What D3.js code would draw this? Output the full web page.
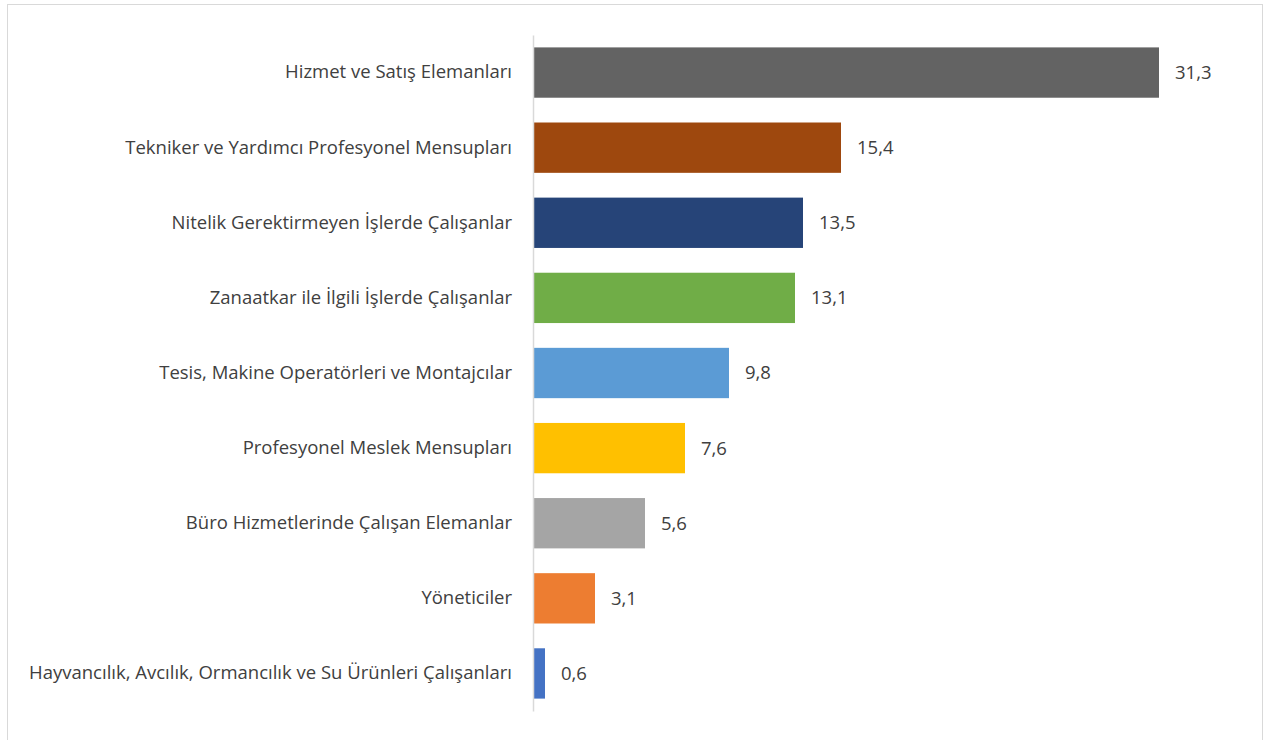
<!DOCTYPE html>
<html>
<head>
<meta charset="utf-8">
<script src="https://cdn.jsdelivr.net/npm/d3@7"></script>
<style>
body{margin:0;background:#fff;}
text{font-family:"Open Sans",sans-serif;fill:#404040;}
</style>
</head>
<body>
<svg width="1270" height="740"></svg>
<script>
const svg=d3.select('svg');
const width=+svg.attr('width');
const height=+svg.attr('height');

// data
const categories=['Hizmet ve Satış Elemanları',
 'Tekniker ve Yardımcı Profesyonel Mensupları',
 'Nitelik Gerektirmeyen İşlerde Çalışanlar',
 'Zanaatkar ile İlgili İşlerde Çalışanlar',
 'Tesis, Makine Operatörleri ve Montajcılar',
 'Profesyonel Meslek Mensupları',
 'Büro Hizmetlerinde Çalışan Elemanlar',
 'Yöneticiler',
 'Hayvancılık, Avcılık, Ormancılık ve Su Ürünleri Çalışanları'];
const values=[31.3,15.4,13.5,13.1,9.8,7.6,5.6,3.1,0.6];
const barColors=['#636363','#9E480E','#264478','#70AD47','#5B9BD5','#FFC000','#A5A5A5','#ED7D31','#4472C4'];

const margin={top:35,left:533,right:80,bottom:29};
const fontSize='18.5px';

// chart frame
svg.append('rect')
 .attr('x',7.5).attr('y',4.5)
 .attr('width',1255).attr('height',745)
 .attr('fill','none').attr('stroke','#d9d9d9');

const xScale=d3.scaleLinear()
 .domain([0,35])
 .range([margin.left,margin.left+700]);
const yScale=d3.scaleBand()
 .domain(categories)
 .range([margin.top,height-margin.bottom])
 .paddingInner(0.33).paddingOuter(0.165);

// bars
svg.selectAll('rect.bar')
 .data(values)
 .enter().append('rect')
 .attr('class','bar')
 .attr('x',xScale(0))
 .attr('y',(d,i)=>yScale(categories[i]))
 .attr('width',d=>xScale(d)-xScale(0))
 .attr('height',yScale.bandwidth())
 .attr('fill',(d,i)=>barColors[i]);

// y axis with category labels
const yAxis=d3.axisLeft(yScale).tickSize(0).tickPadding(21);
const gy=svg.append('g')
 .attr('transform',`translate(${xScale(0)},0)`)
 .call(yAxis);
gy.select('.domain').attr('stroke','#d9d9d9').attr('stroke-width',1.5);
gy.selectAll('.tick text')
 .style('font-family','"Open Sans",sans-serif')
 .style('font-size',fontSize)
 .attr('fill','#404040');

// value labels
svg.selectAll('text.val')
 .data(values)
 .enter().append('text')
 .attr('class','val')
 .attr('x',d=>xScale(d)+16)
 .attr('y',(d,i)=>yScale(categories[i])+yScale.bandwidth()/2)
 .attr('dy','0.35em')
 .style('font-size',fontSize)
 .text(d=>d3.format('.1f')(d).replace('.',','));
</script>
</body>
</html>
